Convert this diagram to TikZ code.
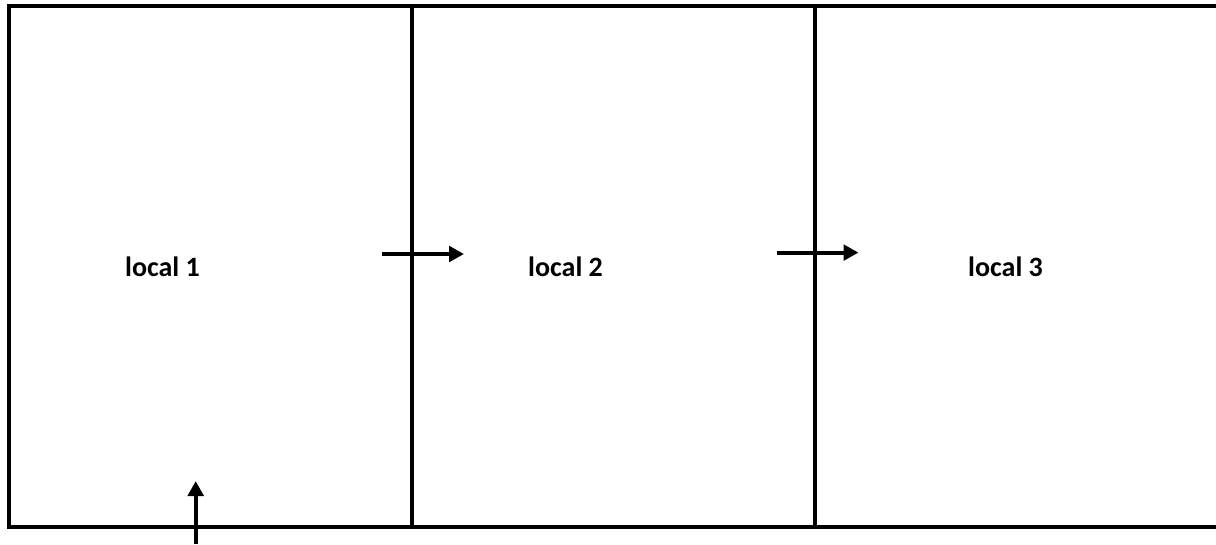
\documentclass[tikz,border=0pt]{standalone}
\usepackage{fontspec}
\setmainfont{Carlito}
\usetikzlibrary{arrows.meta}
\tikzset{
  frame/.style={draw=black,line width=4pt,line cap=butt},
  flow/.style={draw=black,line width=4pt,-{Triangle[length=15pt,width=15.5pt]},shorten >=0pt},
  celltext/.style={font=\fontsize{28}{32}\selectfont\bfseries,inner sep=0pt,anchor=base}
}
\begin{document}
\begin{tikzpicture}[x=1pt,y=-1pt]
\useasboundingbox[fill=white] (0,0) rectangle (1216,544);
\coordinate (tl) at (9,6);
\coordinate (tr) at (1216,6);
\coordinate (bl) at (9,527);
\coordinate (br) at (1216,527);
\coordinate (d1t) at (412,6);
\coordinate (d1b) at (412,527);
\coordinate (d2t) at (815,6);
\coordinate (d2b) at (815,527);
\draw[frame] ([xshift=-2pt]tl) -- (tr);
\draw[frame] ([xshift=-2pt]bl) -- (br);
\draw[frame] (tl) -- (bl);
\draw[frame] (d1t) -- (d1b);
\draw[frame] (d2t) -- (d2b);
\node[celltext] (l1) at (162.5,276) {local 1};
\node[celltext] (l2) at (565.5,276) {local 2};
\node[celltext] (l3) at (1005.5,276) {local 3};
\coordinate (a1s) at (382,254);
\coordinate (a1e) at (464,254);
\coordinate (a2s) at (777,252.6);
\coordinate (a2e) at (858.5,252.6);
\coordinate (a3s) at (195.7,544);
\coordinate (a3e) at (195.7,481);
\draw[flow] (a1s) -- (a1e);
\draw[flow] (a2s) -- (a2e);
\draw[flow] (a3s) -- (a3e);
\end{tikzpicture}
\end{document}
